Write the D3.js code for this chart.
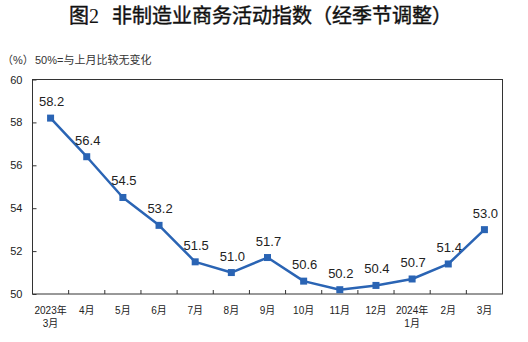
<!DOCTYPE html>
<html>
<head>
<meta charset="utf-8">
<script src="https://cdn.jsdelivr.net/npm/d3@7"></script>
<style>
  html, body { margin: 0; padding: 0; background: #fff; }
  svg { display: block; }
</style>
</head>
<body>
<svg id="chart" width="528" height="342"></svg>
<script>
// 非制造业商务活动指数（经季节调整）
const months = ["2023年|3月", "4月", "5月", "6月", "7月", "8月", "9月", "10月", "11月", "12月", "2024年|1月", "2月", "3月"];
const values = [58.2, 56.4, 54.5, 53.2, 51.5, 51.0, 51.7, 50.6, 50.2, 50.4, 50.7, 51.4, 53.0];
const yTicks = [50, 52, 54, 56, 58, 60];

const svg = d3.select("#chart");
const margin = { left: 32.5, right: 25.5, top: 79.5, bottom: 48 };
const W = 528, H = 342;
const x0 = margin.left, x1 = W - margin.right;
const y0 = H - margin.bottom, y1 = margin.top;

const x = d3.scaleBand().domain(d3.range(months.length)).range([x0, x1]);
const y = d3.scaleLinear().domain([50, 60]).range([y0, y1]);

const cjk = "'Liberation Sans', Arial, 'Noto Sans CJK SC', sans-serif";
const hei = "'Noto Sans CJK SC', sans-serif";

// title
const title = svg.append("text")
  .attr("y", 23)
  .attr("font-size", 20)
  .attr("fill", "#111");
title.append("tspan").attr("x", 69).attr("font-family", hei).attr("font-weight", 400)
  .attr("stroke", "#111").attr("stroke-width", 0.4).text("图");
title.append("tspan").attr("font-family", "'Liberation Serif', 'Times New Roman', serif").text("2");
title.append("tspan").attr("x", 112).attr("font-family", hei).attr("font-weight", 400)
  .attr("stroke", "#111").attr("stroke-width", 0.4)
  .attr("textLength", 340)
  .text("非制造业商务活动指数（经季节调整）");

// unit note
svg.append("text")
  .attr("x", 2).attr("y", 64)
  .attr("font-family", cjk)
  .attr("font-size", 11)
  .attr("fill", "#333")
  .text("（%）");
svg.append("text")
  .attr("x", 35).attr("y", 64)
  .attr("font-family", cjk)
  .attr("font-size", 11)
  .attr("fill", "#333")
  .text("50%=与上月比较无变化");

// frame
svg.append("rect")
  .attr("x", x0).attr("y", y1)
  .attr("width", x1 - x0).attr("height", y0 - y1)
  .attr("fill", "none")
  .attr("stroke", "#333")
  .attr("stroke-width", 1);

// y axis
const yAxis = d3.axisLeft(y).tickValues(yTicks).tickSizeInner(-4).tickSizeOuter(0).tickPadding(10);
const gy = svg.append("g").attr("transform", `translate(${x0},0)`).call(yAxis);
gy.select(".domain").remove();
gy.selectAll(".tick line").attr("stroke", "#333");
gy.selectAll(".tick text")
  .attr("font-family", cjk)
  .attr("font-size", 11)
  .attr("fill", "#222");

// x axis: ticks on category boundaries
const boundaries = d3.range(1, months.length).map(i => x(i));
svg.append("g").selectAll("line")
  .data(boundaries).join("line")
  .attr("x1", d => d).attr("x2", d => d)
  .attr("y1", y0).attr("y2", y0 - 4)
  .attr("stroke", "#333");

const xl = svg.append("g").selectAll("text")
  .data(months).join("text")
  .attr("text-anchor", "middle")
  .attr("font-family", cjk)
  .attr("font-size", 10)
  .attr("fill", "#222")
  .attr("transform", (d, i) => `translate(${x(i) + x.bandwidth() / 2},${y0 + 20})`);
xl.each(function(d) {
  const parts = d.split("|");
  const t = d3.select(this);
  parts.forEach((p, k) => {
    t.append("tspan").attr("x", 0).attr("dy", k === 0 ? 0 : 13).text(p);
  });
});

// line
const cx = i => x(i) + x.bandwidth() / 2;
const line = d3.line().x((d, i) => cx(i)).y(d => y(d));
svg.append("path")
  .datum(values)
  .attr("d", line)
  .attr("fill", "none")
  .attr("stroke", "#2a64b4")
  .attr("stroke-width", 2.5)
  .attr("stroke-linejoin", "round");

// markers
svg.append("g").selectAll("rect")
  .data(values).join("rect")
  .attr("x", (d, i) => cx(i) - 3.5)
  .attr("y", d => y(d) - 3.5)
  .attr("width", 7).attr("height", 7)
  .attr("fill", "#2a64b4");

// value labels
svg.append("g").selectAll("text")
  .data(values).join("text")
  .attr("x", (d, i) => cx(i) + 1)
  .attr("y", d => y(d) - 12)
  .attr("text-anchor", "middle")
  .attr("font-family", cjk)
  .attr("font-size", 13)
  .attr("fill", "#222")
  .text(d => d.toFixed(1));
</script>
</body>
</html>
